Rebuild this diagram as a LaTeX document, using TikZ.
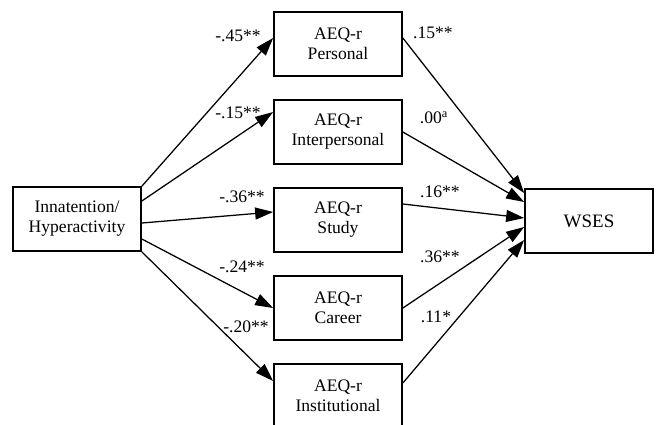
\documentclass[tikz,border=0pt]{standalone}
\usepackage{fontspec}
\setmainfont{Liberation Serif}
\usetikzlibrary{arrows.meta}

\begin{document}
\begin{tikzpicture}[x=0.025cm,y=-0.025cm,
  box/.style={draw,line width=1.2pt,minimum width=3.2cm,minimum height=1.6cm,
    align=center,inner sep=0pt,font=\fontsize{12.5}{14.2}\selectfont},
  coef/.style={inner sep=0pt,font=\fontsize{12.5}{14.2}\selectfont},
  >={Triangle[length=4.5mm,width=3mm]}]
\useasboundingbox (0,0) rectangle (658,424);
\node[box] (iha) at (77,219) {Innatention/\\Hyperactivity};
\node[box] (per) at (338,44) {AEQ-r\\Personal};
\node[box] (inter) at (338,132) {AEQ-r\\Interpersonal};
\node[box] (stu) at (338,220) {AEQ-r\\Study};
\node[box] (car) at (338,308) {AEQ-r\\Career};
\node[box] (ins) at (338,396) {AEQ-r\\Institutional};
\node[box,font=\fontsize{13.5}{16}\selectfont] (wses) at (589,221) {WSES};
% paths into the AEQ-r scales
\draw[->,line width=0.9pt] (iha.north east) -- ([yshift=1.5mm]per.west);
\draw[->,line width=0.9pt] ([yshift=4.5mm]iha.east) -- ([yshift=5mm]inter.west);
\draw[->,line width=0.9pt] ([yshift=-1mm]iha.east) -- ([yshift=2mm]stu.west);
\draw[->,line width=0.9pt] ([yshift=-5mm]iha.east) -- (car.west);
\draw[->,line width=0.9pt] (iha.south east) -- ([yshift=3.75mm]ins.west);
% paths into WSES
\draw[->,line width=0.9pt] ([yshift=1.5mm]per.east) -- ([yshift=7mm]wses.west);
\draw[->,line width=0.9pt] (inter.east) -- ([yshift=4.75mm]wses.west);
\draw[->,line width=0.9pt] ([yshift=4mm]stu.east) -- ([yshift=0.75mm]wses.west);
\draw[->,line width=0.9pt] (car.east) -- ([yshift=-1.5mm]wses.west);
\draw[->,line width=0.9pt] ([yshift=3.25mm]ins.east) -- ([yshift=-4.75mm]wses.west);
% coefficients
\node[coef] (c1) at (238,36) {-.45**};
\node[coef] (c2) at (238,113) {-.15**};
\node[coef] (c3) at (242,197) {-.36**};
\node[coef] (c4) at (242,267) {-.24**};
\node[coef] (c5) at (246,327) {-.20**};
\node[coef] (d1) at (433,33) {.15**};
\node[coef] (d2) at (434,118) {.00\textsuperscript{a}};
\node[coef] (d3) at (440,192) {.16**};
\node[coef] (d4) at (440,257) {.36**};
\node[coef] (d5) at (436,317) {.11*};
\end{tikzpicture}
\end{document}
